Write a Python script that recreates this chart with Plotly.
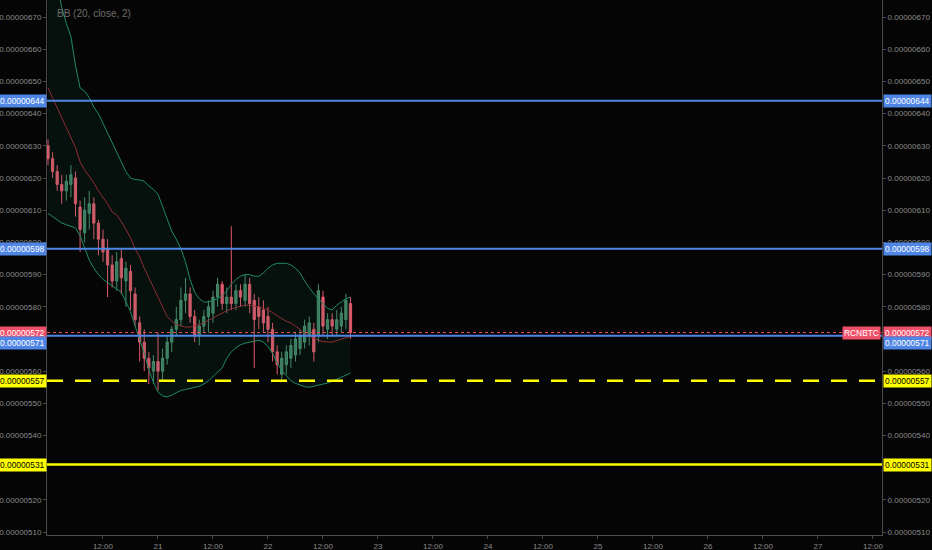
import pandas as pd
import plotly.graph_objects as go

SAT = 1e-8
start = "2018-03-20 00:00"

# hourly candles (values in satoshi)
opens = [630,626,622,618,616,618,620,611,603,609,612,606,601,598,593,588,595,588,591,584,
         575,569,564,560,563,560,564,569,573,576,582,584,577,571,574,577,578,583,587,581,
         583,581,585,582,587,582,580,579,577,573,566,559,562,564,565,567,569,571,573,571,
         583,573,576,573,574,576,581]
highs = [632,628,624,621,621,624,622,613,614,616,614,607,604,601,596,597,598,594,593,586,
         577,573,566,565,572,567,571,574,580,586,589,586,579,576,579,582,585,589,588,586,
         605,587,587,590,589,584,583,582,580,575,568,566,568,570,572,573,576,577,575,587,
         585,578,578,579,580,584,583]
lows = [624,620,616,612,613,614,608,597,600,604,601,596,594,583,586,585,584,580,579,574,
        563,560,556,556,554,557,562,566,571,574,578,575,569,568,572,572,575,580,579,578,
        579,579,580,580,578,561,573,572,569,563,559,557,559,561,563,565,567,568,563,569,
        571,570,571,571,572,573,570]
closes = [626,622,618,616,619,621,612,604,610,612,606,601,597,593,588,594,589,592,585,576,
          569,564,561,563,560,564,569,573,576,582,584,577,571,574,577,580,583,587,581,583,
          581,585,583,587,581,576,577,575,573,566,562,564,566,568,570,571,574,575,566,585,
          574,576,574,576,578,582,572]

# Bollinger bands (20, close, 2)
bb_upper = [690,685,680,673,668,664,655,648,647,645,642,640,637,634,631,628,625,622,620,619.5,
            619.4,619,617.5,616.5,615,611,607,603.5,601,598,594,588.5,584.5,582.5,581.5,581.5,582,582.5,583.5,585,
            587,588.5,589.5,590,590,589.5,589.5,590.5,592,593,593.5,593.5,593.5,593,592,590.5,588,586,584,582.5,
            581,579.5,579,580.5,581.5,582.5,583]
bb_mid = [648,645,642,639,636,633,629.5,625,622.5,620.5,618.5,616,614,612,609.5,608.5,606.5,604,601.5,598,
          595.5,592,589,586,582.5,579.5,577,575.5,574.5,574,573.7,573.7,574,574.5,575,575.8,576.5,577.3,578,578.8,
          579.3,579.8,580.2,580.5,580.5,580.2,580,579.5,579,578.2,577.2,576.3,575.5,575,574,573,571.5,570.8,570.2,569.6,
          569.2,569,569,569.5,570,570.5,570.8]
bb_lower = [609,608,607,606,605.5,605,604.5,602,598.5,594.5,592,590,588.5,587.5,586.5,585.5,584.5,581.5,578.5,574,
            570,565.5,560.5,556.5,553.5,552.3,552,552.5,553.3,554,554.3,554.6,555,555.3,556,557,558.3,559.6,561,564,
            566,567.3,568.2,568.7,569,569.4,569.6,569,567.7,565.5,562.5,560.2,558.5,557,556.2,555.7,555.2,555,555.3,555.7,
            556,556.3,556.8,557.5,558.2,558.8,559.4]

# horizontal levels
blue_levels = [644, 598, 571]
yellow_dashed = [557]
yellow_solid = [531]
last_price = 572
symbol = "RCNBTC"

# price axis ticks (labels under the level boxes are hidden, as in the source)
y_ticks = list(range(510, 671, 10))
y_hidden = [530, 570]

tick_vals = pd.date_range("2018-03-20 12:00", "2018-03-27 12:00", freq="12h")
tick_text = ["12:00", "21", "12:00", "22", "12:00", "23", "12:00", "24", "12:00",
             "25", "12:00", "26", "12:00", "27", "12:00"]

times = pd.date_range(start, periods=len(closes), freq="1h")
s = lambda arr: [v * SAT for v in arr]

BLUE = "#4f86e6"
RED = "#ef5069"
YEL = "#ffff00"
BAND = "#1f8a68"
BOXFONT = "Liberation Sans, Arial"

fig = go.Figure()
fig.add_trace(go.Scatter(x=times, y=s(bb_upper), mode="lines", line=dict(color=BAND, width=1),
                         hoverinfo="skip", showlegend=False))
fig.add_trace(go.Scatter(x=times, y=s(bb_lower), mode="lines", line=dict(color=BAND, width=1),
                         fill="tonexty", fillcolor="rgba(20,120,90,0.10)",
                         hoverinfo="skip", showlegend=False))
fig.add_trace(go.Scatter(x=times, y=s(bb_mid), mode="lines", line=dict(color="#8e2f35", width=1),
                         hoverinfo="skip", showlegend=False, yaxis="y2"))
fig.add_trace(go.Candlestick(
    x=times, open=s(opens), high=s(highs), low=s(lows), close=s(closes),
    increasing=dict(line=dict(color="#4c8b6c", width=1), fillcolor="#3f7d5f"),
    decreasing=dict(line=dict(color="#e2596c", width=1), fillcolor="#e2596c"),
    whiskerwidth=0, showlegend=False))

shapes = []
for lv in blue_levels:
    shapes.append(dict(type="line", xref="paper", x0=0, x1=1, yref="y", y0=lv * SAT, y1=lv * SAT,
                       line=dict(color=BLUE, width=2)))
for lv in yellow_dashed:
    shapes.append(dict(type="line", xref="paper", x0=0, x1=1, yref="y", y0=lv * SAT, y1=lv * SAT,
                       line=dict(color=YEL, width=2.5, dash="16px,12px")))
for lv in yellow_solid:
    shapes.append(dict(type="line", xref="paper", x0=0, x1=1, yref="y", y0=lv * SAT, y1=lv * SAT,
                       line=dict(color=YEL, width=2.5)))
shapes.append(dict(type="line", xref="paper", x0=0, x1=1, yref="y", y0=last_price * SAT, y1=last_price * SAT,
                   line=dict(color=RED, width=1, dash="dot")))

annotations = []
def box(val, color, fcolor="#ffffff", shift=0):
    txt = "%.8f" % (val * SAT)
    for side in ("left", "right"):
        annotations.append(dict(
            xref="paper", yref="y", x=0 if side == "left" else 1, y=val * SAT,
            xanchor="right" if side == "left" else "left", xshift=0 if side == "left" else 1,
            yshift=shift, text=txt, showarrow=False, bgcolor=color, borderpad=1,
            font=dict(family=BOXFONT, size=8.4, color=fcolor)))

box(644, BLUE)
box(598, BLUE)
box(last_price, RED)
box(571, BLUE, shift=-7)
box(557, YEL, fcolor="#000000")
box(531, YEL, fcolor="#000000")
annotations.append(dict(xref="paper", yref="y", x=1, y=last_price * SAT, xanchor="right", xshift=-1,
                        text=symbol, showarrow=False, bgcolor=RED, borderpad=1,
                        font=dict(family=BOXFONT, size=8.4, color="#ffffff")))
annotations.append(dict(xref="paper", yref="paper", x=0, y=1, xanchor="left", yanchor="top",
                        xshift=8, yshift=-6, text="BB (20, close, 2)", showarrow=False,
                        font=dict(family=BOXFONT, size=10, color="#6e6e6e")))

yr = [509.1 * SAT, 675.3 * SAT]
ytv = [v * SAT for v in y_ticks]
ytt = ["" if v in y_hidden else "%.8f" % (v * SAT) for v in y_ticks]
axis_font = dict(family="Liberation Sans, Arial", size=8, color="#8a8a8a")

fig.update_layout(
    width=932, height=550,
    margin=dict(l=47, r=50, t=0, b=15, autoexpand=False),
    paper_bgcolor="#050505", plot_bgcolor="#050505",
    showlegend=False,
    shapes=shapes, annotations=annotations,
    xaxis=dict(type="date", range=[pd.Timestamp(start) - pd.Timedelta(minutes=13),
                                   pd.Timestamp("2018-03-27 13:58")],
               tickvals=tick_vals, ticktext=tick_text, showgrid=False, zeroline=False,
               rangeslider=dict(visible=False), showline=True, linecolor="#4a4a4a",
               ticks="outside", ticklen=3, tickcolor="#4a4a4a", tickfont=axis_font),
    yaxis=dict(range=yr, tickvals=ytv, ticktext=ytt, showgrid=False, zeroline=False,
               showline=True, linecolor="#4a4a4a", ticks="outside", ticklen=3,
               tickcolor="#4a4a4a", tickfont=axis_font, side="left"),
    yaxis2=dict(range=yr, tickvals=ytv, ticktext=ytt, showgrid=False, zeroline=False,
                showline=True, linecolor="#4a4a4a", ticks="outside", ticklen=3,
                tickcolor="#4a4a4a", tickfont=axis_font, side="right", overlaying="y"),
)

fig.write_html("out.html", config={"displayModeBar": False},
               post_script="document.body.style.margin='0';document.body.style.background='#050505';")
